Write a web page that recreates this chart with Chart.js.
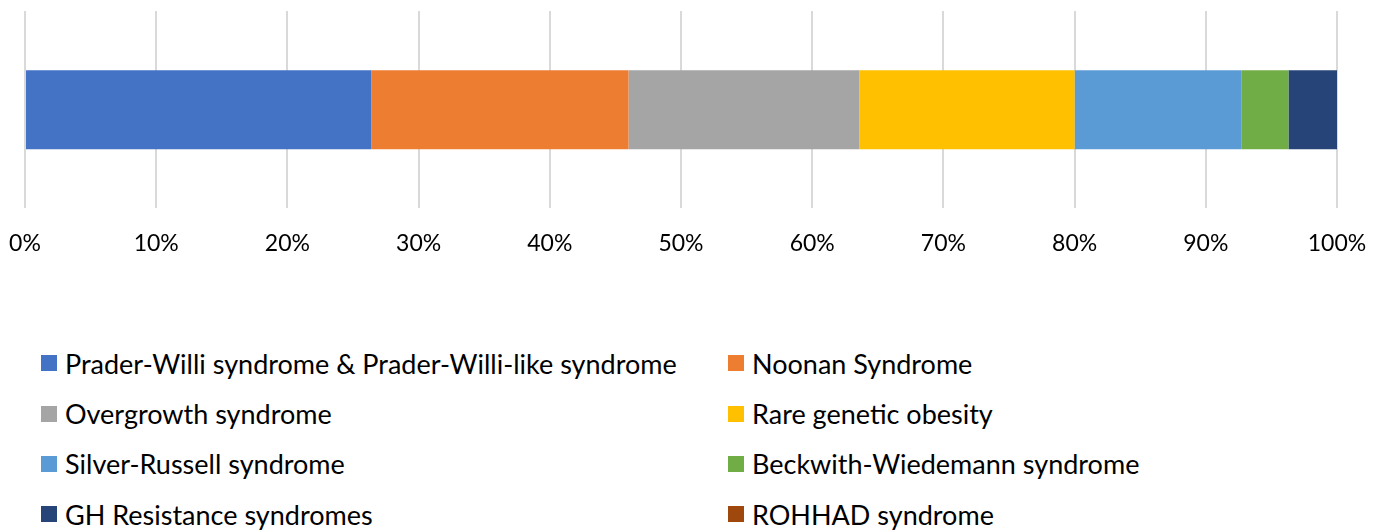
<!DOCTYPE html>
<html>
<head>
<meta charset="utf-8">
<script src="https://cdn.jsdelivr.net/npm/chart.js@4"></script>
<style>
  body { margin: 0; background: #fff; font-family: Lato, "Open Sans", sans-serif; }
  #wrap { position: relative; width: 1384px; height: 531px; }
  #chart-box { position: absolute; left: 0; top: 0; width: 1384px; height: 300px; }
  #legend {
    position: absolute; left: 41px; top: 338px;
    display: grid; grid-template-columns: 687px auto; grid-auto-rows: 50.4px;
  }
  .item { display: flex; align-items: center; font-size: 27px; color: #000; white-space: nowrap; }
  .swatch { width: 16px; height: 16px; margin-right: 8px; flex: none; }
</style>
</head>
<body>
<div id="wrap">
  <div id="chart-box"><canvas id="syndromes"></canvas></div>
  <div id="legend"></div>
</div>
<script>
// share of each group (%)
const groups = [
    'Prader-Willi syndrome & Prader-Willi-like syndrome',
    'Noonan Syndrome',
    'Overgrowth syndrome',
    'Rare genetic obesity',
    'Silver-Russell syndrome',
    'Beckwith-Wiedemann syndrome',
    'GH Resistance syndromes',
    'ROHHAD syndrome'
];
const shares = [26.4, 19.6, 17.6, 16.4, 12.7, 3.6, 3.7, 0];
const colours = ['#4472C4', '#ED7D31', '#A5A5A5', '#FFC000', '#5B9BD5', '#70AD47', '#264478', '#9E480E'];
const xTicks = [0, 10, 20, 30, 40, 50, 60, 70, 80, 90, 100];

const datasets = groups.map((name, i) => ({
    label: name,
    data: [shares[i]],
    backgroundColor: colours[i],
    borderWidth: 0,
    barPercentage: 0.4,
    categoryPercentage: 1
}));

const ctx = document.getElementById('syndromes');
new Chart(ctx, {
    type: 'bar',
    data: { labels: [''], datasets: datasets },
    options: {
        indexAxis: 'y',
        responsive: true,
        maintainAspectRatio: false,
        animation: false,
        layout: { padding: { top: 11, left: 25, right: 47, bottom: 22 } },
        plugins: { legend: { display: false }, tooltip: { enabled: false } },
        scales: {
            x: {
                stacked: true,
                min: xTicks[0],
                max: xTicks[xTicks.length - 1],
                afterBuildTicks: (axis) => { axis.ticks = xTicks.map(v => ({ value: v })); },
                // let the layout padding alone decide the plot edges
                afterFit: (axis) => { axis.paddingLeft = 0; axis.paddingRight = 0; },
                grid: { color: '#d9d9d9', lineWidth: 2, drawTicks: false },
                border: { display: false },
                ticks: {
                    padding: 21,
                    color: '#000',
                    font: { family: 'Lato', size: 23 },
                    callback: (v) => v + '%'
                }
            },
            y: { stacked: true, display: false }
        }
    }
});

// legend laid out in two columns like the original
const legend = document.getElementById('legend');
groups.forEach((name, i) => {
    const item = document.createElement('div');
    item.className = 'item';
    const sw = document.createElement('span');
    sw.className = 'swatch';
    sw.style.background = colours[i];
    item.appendChild(sw);
    item.appendChild(document.createTextNode(name));
    legend.appendChild(item);
});
</script>
</body>
</html>
